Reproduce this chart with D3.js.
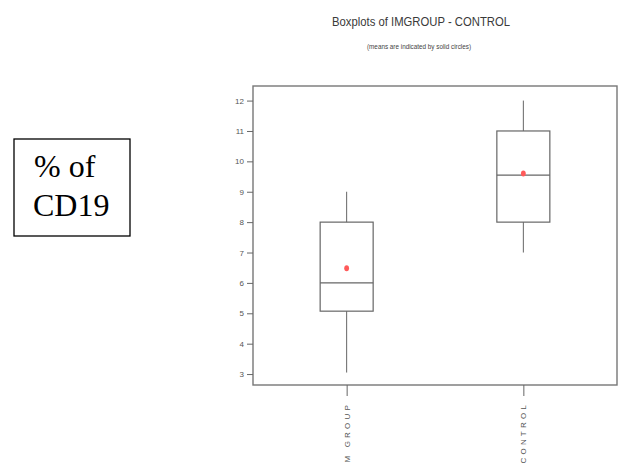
<!DOCTYPE html>
<html>
<head>
<meta charset="utf-8">
<script src="https://cdn.jsdelivr.net/npm/d3@7"></script>
<style>
  html, body { margin: 0; padding: 0; background: #fff; }
  svg { display: block; }
</style>
</head>
<body>
<script>
// Summary statistics per group
const groups      = ["IM GROUP", "CONTROL"];
const whiskerLow  = [3.05, 7];
const q1          = [5.07, 8];
const median      = [6, 9.55];
const q3          = [8, 11];
const whiskerHigh = [9, 12];
const means       = [6.48, 9.6];
const yTicks      = [3, 4, 5, 6, 7, 8, 9, 10, 11, 12];

const W = 625, H = 464;
const svg = d3.select("body").append("svg").attr("width", W).attr("height", H);

const plot = { left: 253, right: 617, top: 86, bottom: 385 };

const x = d3.scalePoint().domain(groups).range([plot.left, plot.right]).padding(0.53);
const y = d3.scaleLinear().domain([2.64, 12.48]).range([plot.bottom, plot.top]);

const narrow = "'Liberation Sans Narrow', 'Liberation Sans', Arial, sans-serif";

// Titles
svg.append("text")
  .attr("x", 421).attr("y", 26)
  .attr("text-anchor", "middle")
  .attr("font-family", narrow).attr("font-size", 13)
  .attr("fill", "#3a3a3a")
  .attr("textLength", 178).attr("lengthAdjust", "spacingAndGlyphs")
  .text("Boxplots of IMGROUP - CONTROL");

svg.append("text")
  .attr("x", 419).attr("y", 49)
  .attr("text-anchor", "middle")
  .attr("font-family", narrow).attr("font-size", 7.5)
  .attr("fill", "#444")
  .attr("textLength", 104).attr("lengthAdjust", "spacingAndGlyphs")
  .text("(means are indicated by solid circles)");

// Plot frame
svg.append("rect")
  .attr("x", plot.left).attr("y", plot.top)
  .attr("width", plot.right - plot.left).attr("height", plot.bottom - plot.top)
  .attr("fill", "none").attr("stroke", "#777").attr("stroke-width", 1.4);

// Y axis
const yAxis = d3.axisLeft(y).tickValues(yTicks).tickSize(6).tickPadding(3);
const gy = svg.append("g").attr("transform", `translate(${plot.left},0)`).call(yAxis);
gy.select(".domain").remove();
gy.selectAll(".tick line").attr("stroke", "#666");
gy.selectAll(".tick text")
  .attr("font-family", narrow).attr("font-size", 8).attr("fill", "#555");

// X axis
const xAxis = d3.axisBottom(x).tickSize(11).tickFormat("");
const gx = svg.append("g").attr("transform", `translate(0,${plot.bottom})`).call(xAxis);
gx.select(".domain").remove();
gx.selectAll(".tick line").attr("stroke", "#666");

// Rotated, letter-spaced category labels
svg.append("g").selectAll("text")
  .data(groups)
  .join("text")
  .attr("transform", d => `translate(${x(d) + 3},402) rotate(-90)`)
  .attr("text-anchor", "end")
  .attr("font-family", "'Liberation Sans', Arial, sans-serif")
  .attr("font-size", 8)
  .attr("letter-spacing", 3.2)
  .attr("fill", "#555")
  .text(d => d);

// Boxes
const boxW = 53;
const bx = svg.append("g");
groups.forEach((g, i) => {
  const cx = x(g);
  // whiskers
  bx.append("line").attr("x1", cx).attr("x2", cx)
    .attr("y1", y(whiskerHigh[i])).attr("y2", y(q3[i]))
    .attr("stroke", "#666").attr("stroke-width", 1);
  bx.append("line").attr("x1", cx).attr("x2", cx)
    .attr("y1", y(q1[i])).attr("y2", y(whiskerLow[i]))
    .attr("stroke", "#666").attr("stroke-width", 1);
  // box
  bx.append("rect")
    .attr("x", cx - boxW / 2).attr("y", y(q3[i]))
    .attr("width", boxW).attr("height", y(q1[i]) - y(q3[i]))
    .attr("fill", "none").attr("stroke", "#666").attr("stroke-width", 1.2);
  // median
  bx.append("line")
    .attr("x1", cx - boxW / 2).attr("x2", cx + boxW / 2)
    .attr("y1", y(median[i])).attr("y2", y(median[i]))
    .attr("stroke", "#666").attr("stroke-width", 1.2);
  // mean
  bx.append("ellipse")
    .attr("cx", cx).attr("cy", y(means[i])).attr("rx", 2.4).attr("ry", 3)
    .attr("fill", "#ff5a5a");
});

// Side label box
svg.append("rect")
  .attr("x", 14).attr("y", 139).attr("width", 116).attr("height", 97)
  .attr("fill", "none").attr("stroke", "#000").attr("stroke-width", 1.3);
const lbl = svg.append("text")
  .attr("font-family", "'Liberation Serif', 'Times New Roman', serif")
  .attr("font-size", 32).attr("fill", "#000");
lbl.append("tspan").attr("x", 34).attr("y", 177).text("% of");
lbl.append("tspan").attr("x", 33).attr("y", 216).text("CD19");
</script>
</body>
</html>
